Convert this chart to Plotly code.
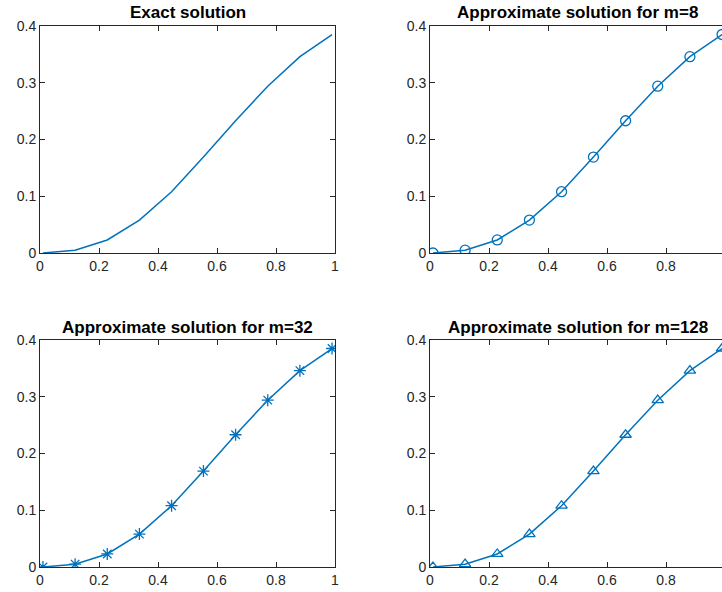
import plotly.graph_objects as go

x_vals = [0.01, 0.119, 0.228, 0.337, 0.446, 0.554, 0.663, 0.772, 0.881, 0.99]
exact = [0.0, 0.005, 0.023, 0.058, 0.108, 0.169, 0.233, 0.294, 0.346, 0.385]
approx_m8 = [0.0, 0.005, 0.023, 0.058, 0.108, 0.169, 0.233, 0.294, 0.346, 0.385]
approx_m32 = [0.0, 0.005, 0.023, 0.058, 0.108, 0.169, 0.233, 0.294, 0.346, 0.385]
approx_m128 = [0.0, 0.005, 0.023, 0.058, 0.108, 0.169, 0.233, 0.294, 0.346, 0.385]
titles = ["Exact solution", "Approximate solution for m=8",
          "Approximate solution for m=32", "Approximate solution for m=128"]
x_ticks = [0, 0.2, 0.4, 0.6, 0.8, 1]
x_tick_text = ["0", "0.2", "0.4", "0.6", "0.8", "1"]
y_ticks = [0, 0.1, 0.2, 0.3, 0.4]
y_tick_text = ["0", "0.1", "0.2", "0.3", "0.4"]

W, H = 722, 592
BLUE = "#0072BD"
AX = "#262626"
FONT = "Liberation Sans, Arial, Helvetica, sans-serif"

# pixel boxes (left, right, top, bottom)
boxes = [(40, 335, 26, 253), (430, 722, 26, 253),
         (40, 335, 340, 567), (430, 722, 340, 567)]
full_w = 295.0

series = [
    (exact, "lines", None),
    (approx_m8, "lines+markers", "circle-open"),
    (approx_m32, "lines+markers", "asterisk-open"),
    (approx_m128, "lines+markers", "triangle-up-open"),
]

fig = go.Figure()
for i, ((ys, mode, sym), (l, r, t, b)) in enumerate(zip(series, boxes)):
    n = "" if i == 0 else str(i + 1)
    xa, ya = "x" + n, "y" + n
    marker = dict(color=BLUE, size=10, symbol=sym, line=dict(color=BLUE, width=1.3)) if sym else None
    fig.add_trace(go.Scatter(x=x_vals, y=ys, mode=mode, xaxis=xa, yaxis=ya,
                             line=dict(color=BLUE, width=1.5), marker=marker,
                             showlegend=False))
    xmax = (r - l) / full_w
    cut = (r - l) < full_w
    axis_common = dict(showgrid=False, zeroline=False, showline=True, linecolor=AX,
                       linewidth=1, ticks="inside", ticklen=5, tickwidth=1, tickcolor=AX,
                       automargin=False,
                       tickfont=dict(family=FONT, size=14, color=AX))
    fig.layout["xaxis" + n] = dict(domain=[l / W, r / W], range=[0, xmax], anchor=ya,
                                   tickvals=x_ticks, ticktext=x_tick_text, mirror="ticks",
                                   **axis_common)
    fig.layout["yaxis" + n] = dict(domain=[1 - b / H, 1 - t / H], range=[0, 0.4], anchor=xa,
                                   tickvals=y_ticks, ticktext=y_tick_text,
                                   mirror=False if cut else "ticks", **axis_common)
    fig.add_annotation(text="<b>" + titles[i] + "</b>", xref="paper", yref="paper",
                       x=(l + full_w / 2) / W, y=1 - (t - 13) / H, xanchor="center",
                       yanchor="middle", showarrow=False,
                       font=dict(family=FONT, size=17, color="black"))

fig.update_layout(width=W, height=H, margin=dict(l=0, r=0, t=0, b=0),
                  paper_bgcolor="white", plot_bgcolor="white")
fig.write_html("out.html", config={"displayModeBar": False},
               post_script="document.body.style.margin='0';"
                           "document.documentElement.style.overflow='hidden';"
                           "document.body.style.overflow='hidden';")
